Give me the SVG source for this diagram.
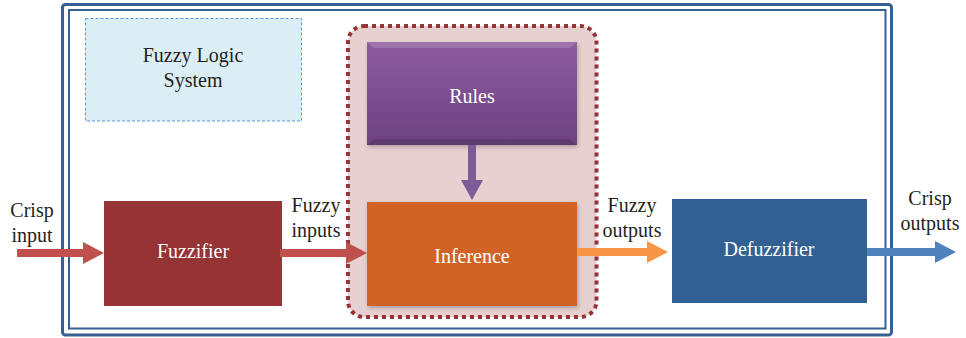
<svg xmlns="http://www.w3.org/2000/svg" width="966" height="338" viewBox="0 0 966 338">
<defs>
<linearGradient id="rulesGrad" x1="0" y1="0" x2="0" y2="1">
<stop offset="0" stop-color="#8d5c9f"/>
<stop offset="1" stop-color="#6c4280"/>
</linearGradient>
<filter id="shadow" x="-10%" y="-10%" width="125%" height="130%">
<feDropShadow dx="1" dy="2" stdDeviation="2" flood-color="#000" flood-opacity="0.25"/>
</filter>
<marker id="headRed" viewBox="0 0 10 10" refX="10" refY="5" markerWidth="2.6" markerHeight="2.6" orient="auto" markerUnits="strokeWidth"><path d="M0,0 L10,5 L0,10 z" fill="#c0504d"/></marker>
</defs>
<style>
text{font-family:"Liberation Serif","DejaVu Serif",serif;font-size:20px;text-anchor:middle}
.lbl{fill:#231f20}
.wt{fill:#ffffff}
</style>
<rect x="62.5" y="4.5" width="829" height="330.5" rx="3" fill="none" stroke="#366092" stroke-width="3"/>
<rect x="69" y="10" width="816.5" height="318.5" fill="none" stroke="#366092" stroke-width="2"/>
<g id="fls">
<rect x="85.5" y="18.5" width="216" height="102.5" fill="#dbeef6" stroke="#5b9bd5" stroke-width="1" stroke-dasharray="3 2"/>
<text class="lbl" x="193" y="62">Fuzzy Logic</text>
<text class="lbl" x="193" y="87">System</text>
</g>
<g id="inferenceGroup">
<rect x="348" y="26" width="248.5" height="291" rx="16" fill="#e7d0d0" stroke="#953335" stroke-width="4" stroke-dasharray="4 4"/>
</g>
<g id="rules">
<rect x="367" y="42" width="210" height="103" fill="url(#rulesGrad)" filter="url(#shadow)"/>
<path d="M367,42 L577,42 L570,48 L374,48 z" fill="#ffffff" opacity="0.15"/>
<path d="M367,145 L577,145 L570,139 L374,139 z" fill="#000000" opacity="0.12"/>
<text class="wt" x="472" y="103">Rules</text>
</g>
<g id="inference">
<rect x="367" y="202" width="210" height="104" fill="#d26328" filter="url(#shadow)"/>
<text class="wt" x="472" y="263">Inference</text>
</g>
<g id="fuzzifier">
<rect x="104" y="201" width="178" height="105" fill="#953335"/>
<text class="wt" x="193" y="258">Fuzzifier</text>
</g>
<g id="defuzzifier">
<rect x="672" y="199" width="195" height="104" fill="#336092"/>
<text class="wt" x="769" y="256">Defuzzifier</text>
</g>
<g id="connectors">
<path d="M17,253 L84,253" stroke="#c0504d" stroke-width="8" fill="none"/>
<path d="M83,242 L104,253 L83,264 z" fill="#c0504d"/>
<path d="M280,253 L348,253" stroke="#c0504d" stroke-width="8" fill="none"/>
<path d="M346,242 L367,253 L346,264 z" fill="#c0504d"/>
<path d="M577,252 L648,252" stroke="#f79646" stroke-width="8" fill="none"/>
<path d="M647,241 L668,252 L647,263 z" fill="#f79646"/>
<path d="M867,252 L936,252" stroke="#4f81bd" stroke-width="8" fill="none"/>
<path d="M935,241 L956,252 L935,263 z" fill="#4f81bd"/>
<path d="M472,145 L472,181" stroke="#7e5a97" stroke-width="8" fill="none"/>
<path d="M461,180 L472,200 L483,180 z" fill="#7e5a97"/>
</g>
<g id="labels">
<text class="lbl" x="32" y="217">Crisp</text>
<text class="lbl" x="32" y="242">input</text>
<text class="lbl" x="316" y="212">Fuzzy</text>
<text class="lbl" x="316" y="237">inputs</text>
<text class="lbl" x="632" y="212">Fuzzy</text>
<text class="lbl" x="632" y="237">outputs</text>
<text class="lbl" x="930" y="205">Crisp</text>
<text class="lbl" x="930" y="230">outputs</text>
</g>
</svg>
